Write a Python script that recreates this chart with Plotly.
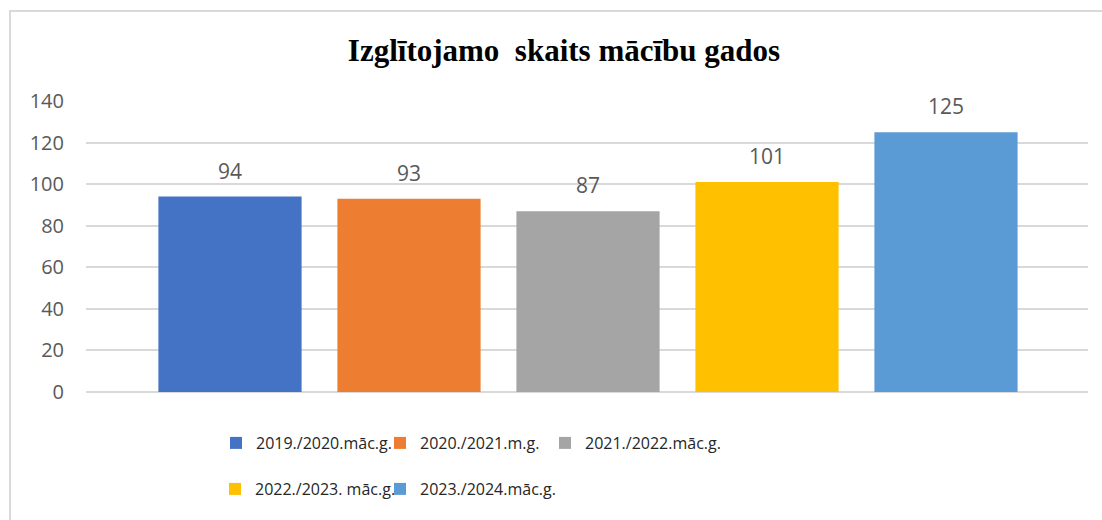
import plotly.graph_objects as go

series_names = ["2019./2020.māc.g.", "2020./2021.m.g.", "2021./2022.māc.g.",
                "2022./2023. māc.g.", "2023./2024.māc.g."]
values = [94, 93, 87, 101, 125]
colors = ["#4472C4", "#ED7D31", "#A5A5A5", "#FFC000", "#5B9BD5"]
y_ticks = [0, 20, 40, 60, 80, 100, 120, 140]
title_text = "Izglītojamo  skaits mācību gados"

W, H = 1102, 520
L, R, T, B = 86, 14, 101, 128

# legend placement (left px, centre-y px) for each series entry
legend_pos = [(216, 443), (380, 443), (545, 443), (215, 489), (380, 489)]

fig = go.Figure()
legend_layout = {}
for i, (name, v, c) in enumerate(zip(series_names, values, colors)):
    lg = "legend" if i == 0 else f"legend{i + 1}"
    fig.add_trace(go.Bar(
        x=[name], y=[v], name=name,
        marker=dict(color=c, line=dict(width=0)),
        legend=lg,
        hoverinfo="name+y",
    ))
    fig.add_annotation(
        x=name, y=v, text=str(v), showarrow=False,
        yanchor="bottom", yshift=10,
        font=dict(family="Open Sans", size=21, color="#595959"),
    )
    lx, ly = legend_pos[i]
    legend_layout[lg] = dict(
        orientation="h", xref="container", yref="container",
        x=lx / W, xanchor="left", y=1 - ly / H, yanchor="middle",
        font=dict(family="Open Sans", size=16, color="#262626"),
        bgcolor="rgba(0,0,0,0)", borderwidth=0,
    )

pw = W - L - R
px_per_cat = 179
first_center = 230
r0 = -(first_center - L) / px_per_cat
r1 = r0 + pw / px_per_cat

fig.update_layout(
    width=W, height=H,
    margin=dict(l=L, r=R, t=T, b=B, autoexpand=False),
    paper_bgcolor="white", plot_bgcolor="white",
    barmode="overlay", bargap=0.2,
    title=dict(text=title_text, x=564 / W, xanchor="center",
               y=1 - 50 / H, yanchor="middle", xref="container", yref="container",
               font=dict(family="Liberation Serif", size=31, color="black", weight="bold")),
    xaxis=dict(type="category", range=[r0, r1], showticklabels=False,
               showgrid=False, zeroline=False, showline=False, fixedrange=True),
    yaxis=dict(range=[0, 140], tickvals=y_ticks, showgrid=True,
               gridcolor="#D9D9D9", gridwidth=1.5, zeroline=True,
               zerolinecolor="#D9D9D9", zerolinewidth=1.5, showline=False,
               ticks="", ticklabelstandoff=21,
               tickfont=dict(family="Open Sans", size=20, color="#595959")),
    showlegend=True,
    **legend_layout,
)

# chart border (light gray frame)
fig.add_shape(type="rect", xref="paper", yref="paper",
              x0=(10 - L) / pw, x1=(W + 20 - L) / pw,
              y0=-(H + 20 - (H - B)) / (H - T - B), y1=(H - B - 11) / (H - T - B),
              line=dict(color="#D9D9D9", width=2), fillcolor="rgba(0,0,0,0)", layer="below")

fig.write_html("out.html", config={"displayModeBar": False},
               post_script="document.body.style.margin='0';")
